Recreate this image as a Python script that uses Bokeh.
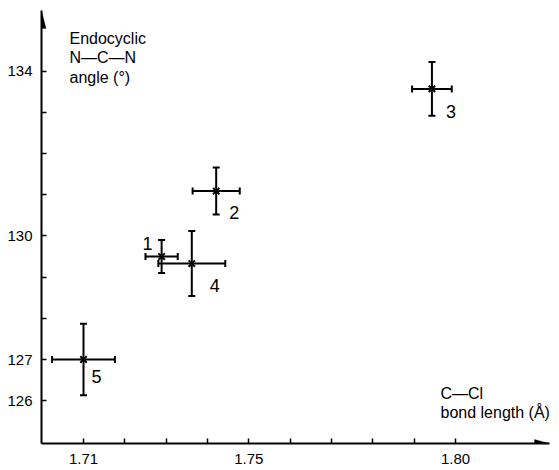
from bokeh.plotting import figure
from bokeh.models import (Range1d, FixedTicker, PrintfTickFormatter, Whisker, TeeHead,
                          ColumnDataSource, Label, PolyAnnotation, Arrow)
from bokeh.core.properties import value
from bokeh.embed import file_html
from bokeh.resources import INLINE

# ---- data ----
compounds = ["1", "2", "3", "4", "5"]
bond_length = [1.7289, 1.7421, 1.7943, 1.7362, 1.7100]      # C-Cl (Å)
bond_err = [0.0039, 0.0057, 0.0048, 0.0081, 0.0076]
angle = [129.50, 131.09, 133.57, 129.33, 127.00]            # N-C-N (°)
angle_err = [0.40, 0.57, 0.65, 0.79, 0.87]

x_major = [1.71, 1.75, 1.80]
x_minor = [1.72, 1.73, 1.74, 1.76, 1.77, 1.78, 1.79]
y_major = [126, 127, 130, 134]
y_minor = [128, 129, 131, 132, 133]

# label placement (screen px) for compound numbers
label_dx = [-14, 18, 19, 23, 13]
label_dy = [-13, 21, 23, 22, 17]

# ---- layout constants ----
PX_X = 4133.3   # px per Å
PX_Y = 41.19    # px per degree
x0 = 1.71 - 42 / PX_X
x1 = x0 + 508 / PX_X
y0 = 127 - 84 / PX_Y
y1 = y0 + 433 / PX_Y

src = ColumnDataSource(dict(
    x=bond_length, y=angle, lab=compounds,
    xlo=[a - e for a, e in zip(bond_length, bond_err)],
    xhi=[a + e for a, e in zip(bond_length, bond_err)],
    ylo=[a - e for a, e in zip(angle, angle_err)],
    yhi=[a + e for a, e in zip(angle, angle_err)],
    dx=label_dx, dy=label_dy,
))

p = figure(width=558, height=469, x_range=Range1d(x0, x1), y_range=Range1d(y0, y1),
           output_backend="svg", toolbar_location=None,
           min_border_left=41, min_border_right=9, min_border_top=10, min_border_bottom=26)
p.outline_line_color = None
p.xgrid.visible = False
p.ygrid.visible = False
p.background_fill_color = "white"

tick_font = "Liberation Sans"
for ax, maj, mnr, fmt in ((p.xaxis[0], x_major, x_minor, "%.2f"), (p.yaxis[0], y_major, y_minor, "%d")):
    ax.ticker = FixedTicker(ticks=maj, minor_ticks=mnr)
    ax.formatter = PrintfTickFormatter(format=fmt)
    ax.axis_line_width = 2
    ax.axis_line_color = "black"
    ax.major_tick_in = 5
    ax.major_tick_out = 0
    ax.minor_tick_in = 5
    ax.minor_tick_out = 0
    ax.major_tick_line_width = 1.5
    ax.minor_tick_line_width = 1.5
    ax.major_tick_line_color = "black"
    ax.minor_tick_line_color = "black"
    ax.major_label_text_font = tick_font
    ax.major_label_text_font_size = "15px"
    ax.major_label_text_color = "black"
p.xaxis.major_label_standoff = 10
p.yaxis.major_label_standoff = 9

# axis extensions and arrow heads
p.add_layout(Arrow(x_start=x0 - 10 / PX_X, y_start=y0, x_end=x0, y_end=y0, end=None,
                   line_width=2, line_color="black"))
p.add_layout(Arrow(x_start=x0, y_start=y0 - 8 / PX_Y, x_end=x0, y_end=y0, end=None,
                   line_width=2, line_color="black"))
p.add_layout(PolyAnnotation(
    xs=[x0, x0 - 4.5 / PX_X, x0 + 4.5 / PX_X],
    ys=[y1, y1 - 18 / PX_Y, y1 - 18 / PX_Y],
    fill_color="black", fill_alpha=1, line_color="black", line_width=1))
p.add_layout(PolyAnnotation(
    xs=[x1, x1 - 15 / PX_X, x1 - 15 / PX_X],
    ys=[y0, y0 + 4 / PX_Y, y0 - 4 / PX_Y],
    fill_color="black", fill_alpha=1, line_color="black", line_width=1))

# error bars
p.add_layout(Whisker(source=src, base="x", lower="ylo", upper="yhi", dimension="height",
                     line_width=2, line_color="black",
                     upper_head=TeeHead(size=7, line_width=2, line_color="black"),
                     lower_head=TeeHead(size=7, line_width=2, line_color="black")))
p.add_layout(Whisker(source=src, base="y", lower="xlo", upper="xhi", dimension="width",
                     line_width=2, line_color="black",
                     upper_head=TeeHead(size=7, line_width=2, line_color="black"),
                     lower_head=TeeHead(size=7, line_width=2, line_color="black")))

p.scatter(x="x", y="y", source=src, marker="x", size=9, line_width=2, line_color="black")

p.text(x="x", y="y", text="lab", source=src, x_offset="dx", y_offset="dy",
       text_font=value(tick_font), text_font_size="18px", text_color="black",
       text_align="center", text_baseline="middle")

# axis titles
p.add_layout(Label(x=1.71 + (70 - 84) / PX_X, y=127 + (359 - 29) / PX_Y,
                   text="Endocyclic\nN\u2014C\u2014N\nangle (\u00b0)",
                   text_font="Liberation Sans", text_font_size="16px", text_color="black",
                   text_align="left", text_baseline="top", text_line_height=1.15))
p.add_layout(Label(x=1.71 + (441 - 84) / PX_X, y=127 + (359 - 384) / PX_Y,
                   text="C\u2014Cl\nbond length (\u00c5)",
                   text_font="Liberation Sans", text_font_size="16px", text_color="black",
                   text_align="left", text_baseline="top", text_line_height=1.15))

open("out.html", "w").write(file_html(p, INLINE))
